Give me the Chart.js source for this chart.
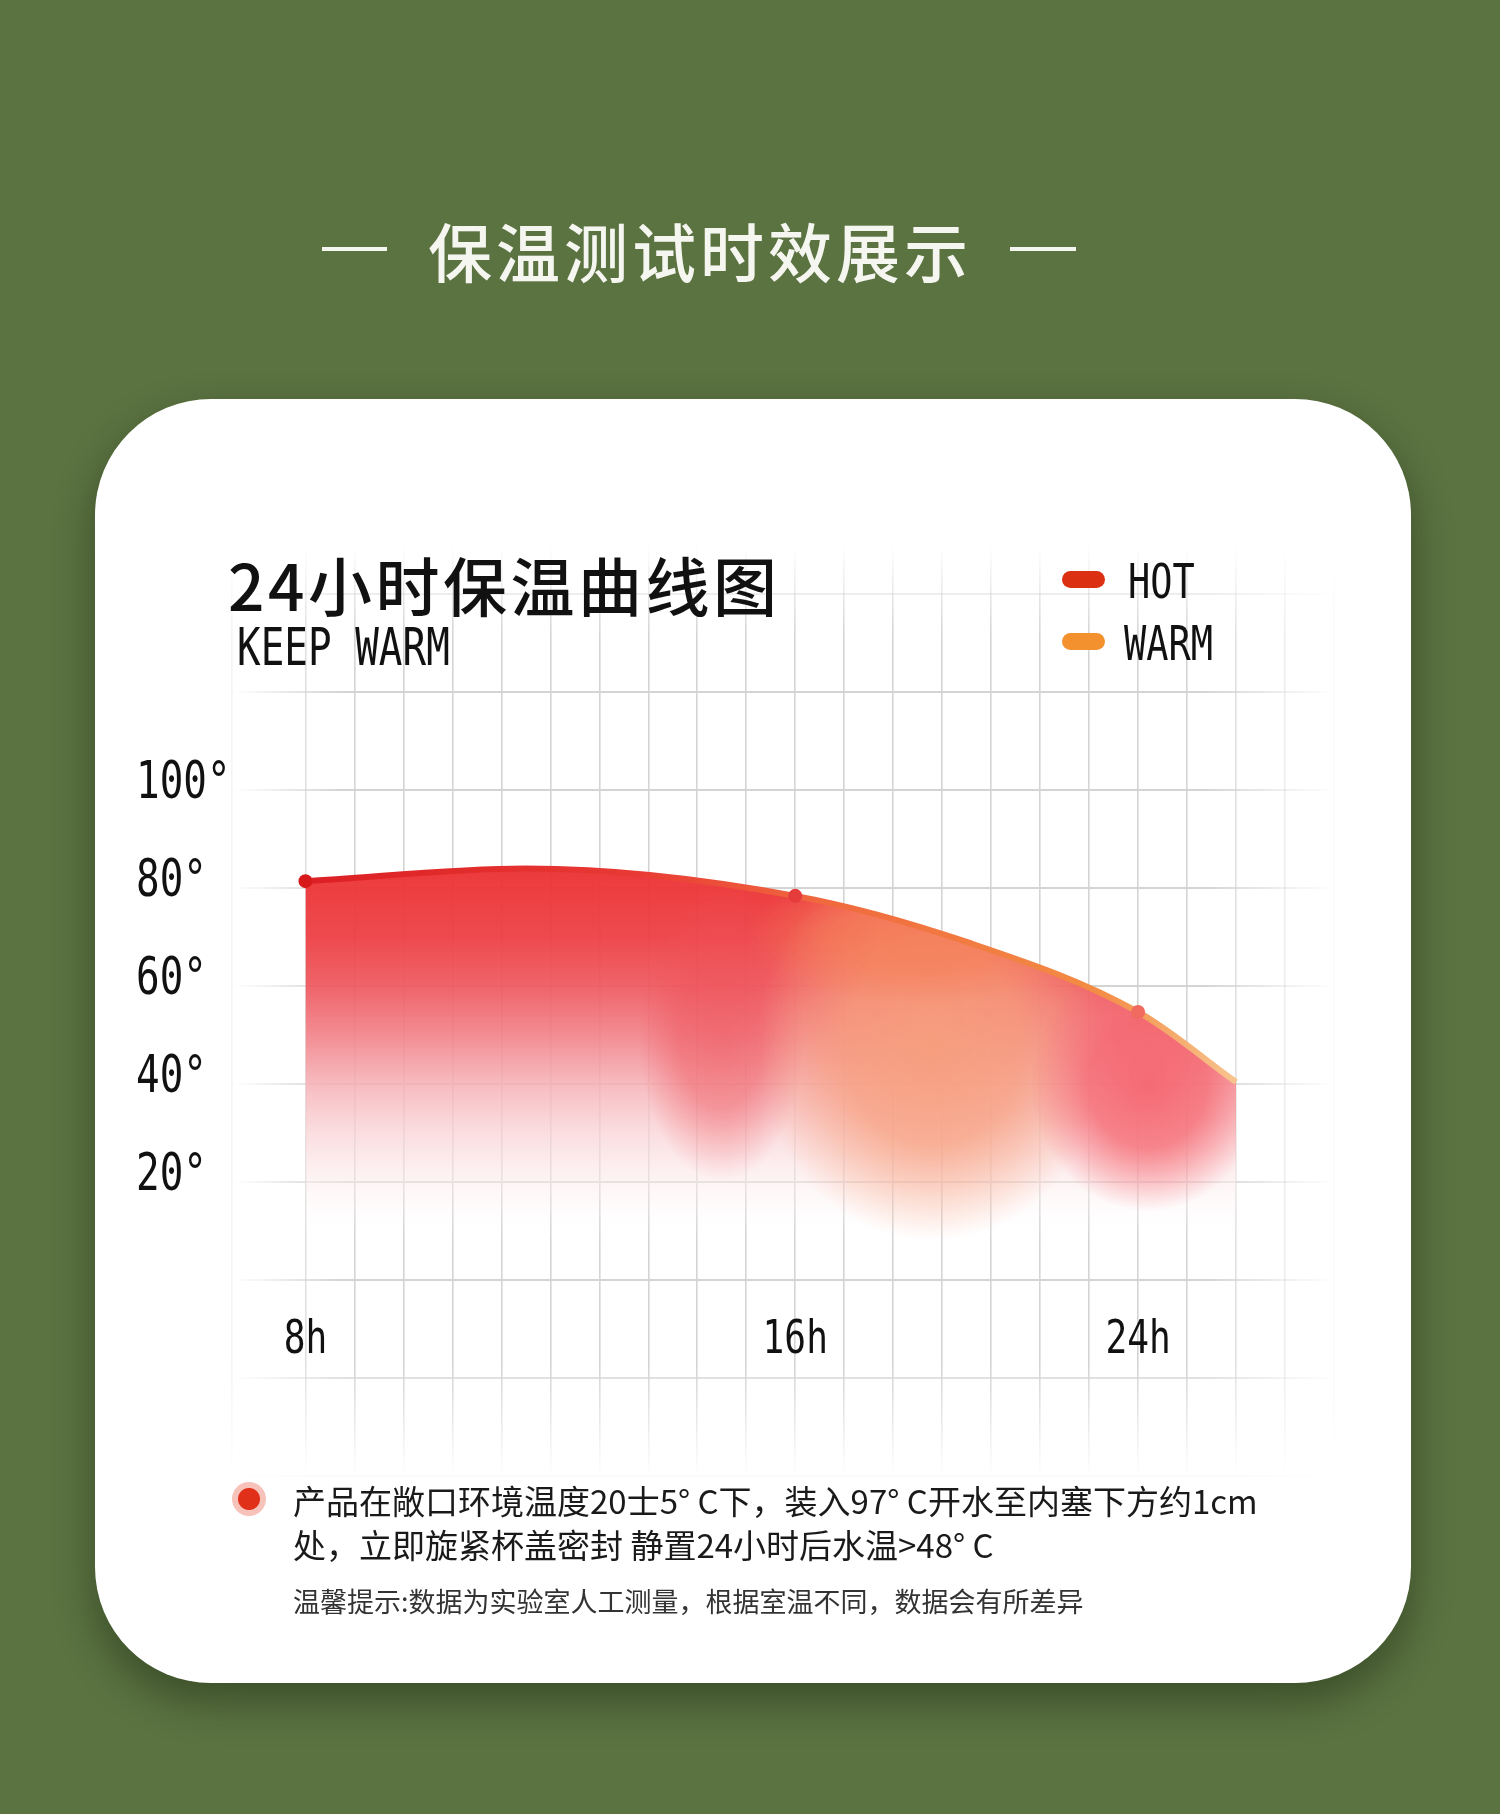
<!DOCTYPE html>
<html lang="zh-CN">
<head>
<meta charset="utf-8">
<title>保温测试时效展示</title>
<script src="https://cdn.jsdelivr.net/npm/chart.js@4.4.1/dist/chart.umd.min.js"></script>
<style>
  html, body { margin: 0; padding: 0; }
  body {
    width: 1500px; height: 1814px; position: relative; overflow: hidden;
    background: #5b7241;
    font-family: 'Noto Sans CJK SC', 'Noto Sans', sans-serif;
  }
  .abs { position: absolute; white-space: nowrap; }
  .mono {
    font-family: 'DejaVu Sans Mono', monospace; line-height: 1; color: #111;
    transform: scaleX(0.77); transform-origin: left top;
  }
  .dash { position: absolute; height: 4px; background: #f6f6f0; }
  #headline { left: 428px; top: 217px; font-size: 64px; line-height: 64px; font-weight: 500; letter-spacing: 4px; color: #f6f6f0; }
  #card {
    position: absolute; left: 95px; top: 399px; width: 1316px; height: 1284px;
    background: #fff; border-radius: 116px;
    box-shadow: 0 18px 40px rgba(20, 35, 10, 0.45);
  }
  #chart { position: absolute; left: 0; top: 0; z-index: 1; }
  .txt { z-index: 2; }
  #title { left: 228px; top: 551px; font-size: 64px; line-height: 64px; font-weight: 500; color: #111; letter-spacing: 3.5px; }
  #subtitle { left: 237px; top: 622px; font-size: 51px; }
  .pill { position: absolute; width: 43px; height: 17px; border-radius: 9px; z-index: 2; }
  #hotTxt { left: 1128px; top: 557px; font-size: 48px; }
  #warmTxt { left: 1124px; top: 619px; font-size: 48px; }
  .note { left: 293px; color: #1a1a1a; font-size: 33px; line-height: 33px; }
  #tip { left: 293px; top: 1587px; color: #333; font-size: 27px; line-height: 27px; }
  #dot { position: absolute; left: 232px; top: 1482px; width: 34px; height: 34px; border-radius: 50%;
         background: radial-gradient(circle, #e0301a 0 10.5px, #f6c2ba 11.5px 17px); z-index: 2; }
</style>
</head>
<body>

<div class="dash" style="left:322px; top:247px; width:65px;"></div>
<div id="headline" class="abs">保温测试时效展示</div>
<div class="dash" style="left:1010px; top:247px; width:66px;"></div>

<div id="card"></div>
<canvas id="chart" width="1500" height="1814"></canvas>

<div id="title" class="abs txt">24小时保温曲线图</div>
<div id="subtitle" class="abs txt mono">KEEP WARM</div>

<div class="pill" style="left:1062px; top:571px; background:#dc3012;"></div>
<div id="hotTxt" class="abs txt mono">HOT</div>
<div class="pill" style="left:1062px; top:633px; background:#f4912f;"></div>
<div id="warmTxt" class="abs txt mono">WARM</div>

<div id="dot"></div>
<div class="abs txt note" style="top:1484px;">产品在敞口环境温度20士5° C下，装入97° C开水至内塞下方约1cm</div>
<div class="abs txt note" style="top:1528px;">处，立即旋紧杯盖密封 静置24小时后水温&gt;48° C</div>
<div id="tip" class="abs txt">温馨提示:数据为实验室人工测量，根据室温不同，数据会有所差异</div>

<script>
// 横轴按网格格数计（原图时间轴不等距），标签只标在 8h / 16h / 24h
const hourTicks = [0, 10, 17];
const hourLabels = ['8h', '16h', '24h'];
const dotColors = ['#d7191c', '#e63b3b', '#f06a5f'];

// 曲线读数（格数, 温度）
const curveX = [0, 4.5, 10, 13.5, 17, 19];
const curveTemp = [81.4, 84, 78.4, 69, 54.7, 40.4];

// 纵轴刻度
const degreeTicks = [20, 40, 60, 80, 100];

const tickFont = "'DejaVu Sans Mono', monospace";
const squeeze = 0.77;   // 原图是窄体字，这里横向压一下

// 刻度文字横向压缩：只在该坐标轴画标签时临时替换 fillText
function condense(scale) {
  if (scale._condensed) return;
  scale._condensed = true;
  const drawLabels = scale.drawLabels;
  scale.drawLabels = function (area) {
    const c = this.ctx;
    c.fillText = function (text, x, y) {
      this.save();
      this.translate(x, y);
      this.scale(squeeze, 1);
      CanvasRenderingContext2D.prototype.fillText.call(this, text, 0, 0);
      this.restore();
    };
    drawLabels.call(this, area);
    delete c.fillText;
  };
}

// 网格线两端渐隐
function gridFade(chart, horizontal, factor) {
  const a = chart.chartArea;
  if (!a) return 'rgba(216,216,216,1)';
  const g = horizontal
    ? chart.ctx.createLinearGradient(a.left, 0, a.right, 0)
    : chart.ctx.createLinearGradient(0, a.top, 0, a.bottom);
  const c = al => `rgba(212,212,212,${(al * factor).toFixed(3)})`;
  g.addColorStop(0, c(0));
  g.addColorStop(0.1, c(1));
  g.addColorStop(0.88, c(1));
  g.addColorStop(1, c(0));
  return g;
}

function edgeFactor(v, lo, hi, span) {
  const d = Math.min(v - lo, hi - v);
  return Math.max(0.12, Math.min(1, 0.12 + 0.88 * d / span));
}

function lineGradient(chart) {
  const a = chart.chartArea;
  if (!a) return '#e53a30';
  const xs = chart.scales.x;
  const g = chart.ctx.createLinearGradient(xs.getPixelForValue(0), 0, xs.getPixelForValue(19), 0);
  g.addColorStop(0, '#dc1f24');
  g.addColorStop(0.35, '#e83934');
  g.addColorStop(0.55, '#f0683e');
  g.addColorStop(0.85, '#f38c44');
  g.addColorStop(1, '#f7c48e');
  return g;
}

function blob(ctx, cx, cy, rx, ry, rgb, alpha) {
  ctx.save();
  ctx.translate(cx, cy);
  ctx.scale(rx, ry);
  const g = ctx.createRadialGradient(0, 0, 0, 0, 0, 1);
  const c = al => `rgba(${rgb[0]},${rgb[1]},${rgb[2]},${al})`;
  g.addColorStop(0, c(alpha));
  g.addColorStop(0.5, c(alpha * 0.82));
  g.addColorStop(1, c(0));
  ctx.fillStyle = g;
  ctx.fillRect(-1, -1, 2, 2);
  ctx.restore();
}

// 曲线下方的多色渐变填充
const areaGlow = {
  id: 'areaGlow',
  beforeDatasetsDraw(chart) {
    const meta = chart.getDatasetMeta(0);
    const pts = meta.data;
    const ctx = chart.ctx;
    const xs = chart.scales.x, ys = chart.scales.y;
    const px = v => xs.getPixelForValue(v);
    const py = v => ys.getPixelForValue(v);
    const base = py(4);
    const cell = px(1) - px(0);
    const deg = py(0) - py(1);

    ctx.save();
    ctx.beginPath();
    meta.dataset.path(ctx);
    ctx.lineTo(pts[pts.length - 1].x, base);
    ctx.lineTo(pts[0].x, base);
    ctx.closePath();
    ctx.clip();

    // 纵向：红 -> 粉 -> 白
    const top = py(84), bottom = py(8);
    const v = ctx.createLinearGradient(0, top, 0, bottom);
    const stop = (val, col) => v.addColorStop((84 - val) / 76, col);
    stop(84, 'rgba(236,50,52,0.96)');
    stop(70, 'rgba(237,64,68,0.95)');
    stop(60, 'rgba(238,88,94,0.93)');
    stop(50, 'rgba(241,128,135,0.9)');
    stop(40, 'rgba(245,175,180,0.85)');
    stop(30, 'rgba(249,210,213,0.75)');
    stop(20, 'rgba(252,235,236,0.55)');
    stop(8, 'rgba(255,255,255,0)');
    ctx.fillStyle = v;
    ctx.fillRect(px(0), py(90), px(19) - px(0), base - py(90));

    blob(ctx, px(8.5), py(50), 1.7 * cell, 30 * deg, [238, 80, 88], 0.55);
    blob(ctx, px(12.8), py(48), 3.6 * cell, 40 * deg, [247, 158, 124], 0.92);
    blob(ctx, px(12.5), py(70), 3.5 * cell, 14 * deg, [245, 128, 88], 0.75);
    blob(ctx, px(17.2), py(40), 2.4 * cell, 26 * deg, [245, 98, 108], 0.9);
    ctx.restore();
  }
};

const ctx = document.getElementById('chart').getContext('2d');
new Chart(ctx, {
  type: 'line',
  data: {
    datasets: [{
      label: 'HOT',
      data: curveX.map((x, i) => ({ x: x, y: curveTemp[i] })),
      borderColor: c => lineGradient(c.chart),
      borderWidth: 6,
      cubicInterpolationMode: 'monotone',
      fill: false,
      pointRadius: c => hourTicks.includes(curveX[c.dataIndex]) ? 7 : 0,
      pointBackgroundColor: c => dotColors[hourTicks.indexOf(curveX[c.dataIndex])] || 'transparent',
      pointBorderWidth: 0
    }]
  },
  options: {
    responsive: false,
    animation: false,
    layout: { padding: { left: 136, top: 545, right: 166, bottom: 338 } },
    plugins: { legend: { display: false }, tooltip: { enabled: false } },
    scales: {
      x: {
        type: 'linear',
        min: -1.5,
        max: 21,
        position: { y: -4.6 },
        afterFit: s => { s.height = 0; },
        afterUpdate: condense,
        border: { display: false },
        grid: {
          drawTicks: false,
          lineWidth: 1.6,
          color: c => gridFade(c.chart, false, edgeFactor(c.tick ? c.tick.value : 5, -2, 21, 3))
        },
        ticks: {
          stepSize: 1,
          autoSkip: false,
          maxRotation: 0,
          padding: 10,
          color: '#111',
          font: { family: tickFont, size: 47 },
          callback: v => {
            const i = hourTicks.indexOf(v);
            return i >= 0 ? hourLabels[i] : '';
          }
        }
      },
      y: {
        type: 'linear',
        min: -40,
        max: 150,
        afterFit: s => { s.width = 96; },
        afterUpdate: condense,
        border: { display: false },
        grid: {
          drawTicks: false,
          lineWidth: 2,
          color: c => gridFade(c.chart, true, edgeFactor(c.tick ? c.tick.value : 50, -40, 150, 30))
        },
        ticks: {
          stepSize: 10,
          crossAlign: 'far',
          labelOffset: -5,
          padding: 0,
          color: '#111',
          font: { family: tickFont, size: 51 },
          callback: v => degreeTicks.includes(v) ? v + '°' : ''
        }
      }
    }
  },
  plugins: [areaGlow]
});
</script>
</body>
</html>
